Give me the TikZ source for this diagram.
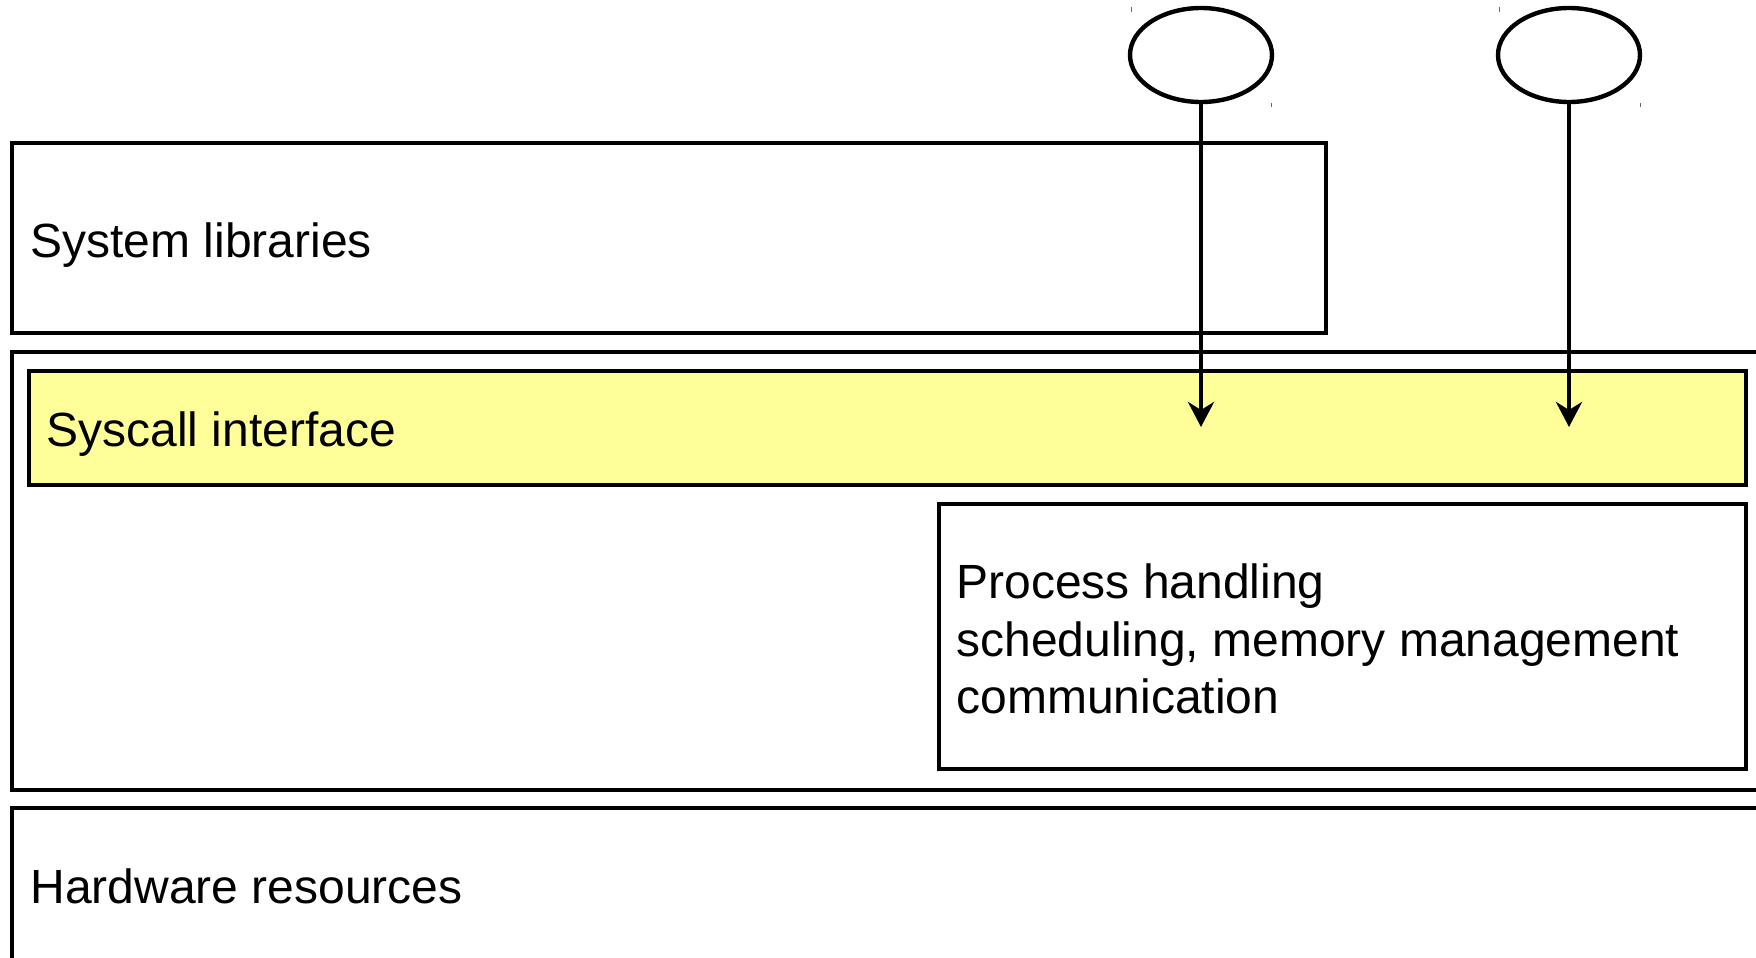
\documentclass[tikz,border=0pt]{standalone}
\usepackage{fontspec}
\setmainfont{Liberation Sans}
\usetikzlibrary{arrows.meta,shapes.geometric}
\definecolor{sysyellow}{RGB}{255,255,153}
\begin{document}
\begin{tikzpicture}[x=0.5pt,y=-0.5pt,
  box/.style={draw=black,line width=2.2pt,rectangle,inner sep=0pt,anchor=north west},
  lbl/.style={inner sep=0pt,anchor=base west,font=\fontsize{24pt}{28.5pt}\selectfont},
  proc/.style={draw=black,line width=2.2pt,ellipse,inner sep=0pt,minimum width=71pt,minimum height=47pt},
  call/.style={line width=2.2pt,-{Stealth[length=12.5pt,width=13pt,inset=4pt]}},
  tick/.style={draw=black!60,line width=0.5pt}]
\useasboundingbox (0,0) rectangle (1756,958);
\clip (0,0) rectangle (1756,958);
\fill[white] (0,0) rectangle (1756,958);
% layers
\node[box,minimum width=657pt,minimum height=95pt] (syslib) at (9.5,141) {};
\node[box,minimum width=895pt,minimum height=219pt] (kernel) at (9.5,350) {};
\node[box,fill=sysyellow,minimum width=858.5pt,minimum height=57pt] (syscall) at (26.5,369) {};
\node[box,minimum width=403.5pt,minimum height=132.5pt] (process) at (936.5,502) {};
\node[box,minimum width=895pt,minimum height=96.5pt] (hardware) at (9.5,806) {};
% texts
\node[lbl] (tsyslib) at (30,257) {System libraries};
\node[lbl] (tsyscall) at (46,446) {Syscall interface};
\node[lbl] (tproc1) at (956,598) {Process handling};
\node[lbl] (tproc2) at (956,656) {scheduling, memory management};
\node[lbl] (tproc3) at (956,713) {communication};
\node[lbl] (thw) at (30,903) {Hardware resources};
% processes
\node[proc] (p1) at (1201,55) {};
\node[proc] (p2) at (1569,55) {};
\coordinate (c1) at (1201,427);
\coordinate (c2) at (1569,427);
\draw[call] (p1.south) -- (c1);
\draw[call] (p2.south) -- (c2);
% tiny corner marks
\draw[tick] (1131.5,7) -- (1131.5,12);
\draw[tick] (1271.5,103) -- (1271.5,107);
\draw[tick] (1499.5,7) -- (1499.5,12);
\draw[tick] (1640.5,103) -- (1640.5,107);
\end{tikzpicture}
\end{document}
